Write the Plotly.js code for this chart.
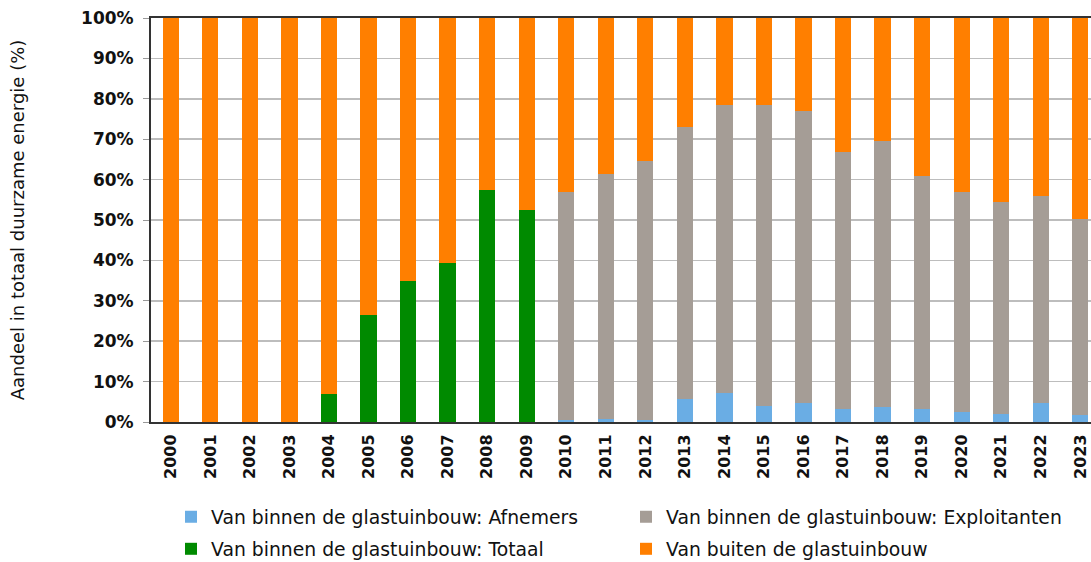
<!DOCTYPE html>
<html>
<head>
<meta charset="utf-8">
<script src="https://cdn.plot.ly/plotly-3.0.1.min.js"></script>
<style>html,body{margin:0;padding:0;background:#fff;}#chart{width:1091px;height:562px;}</style>
</head>
<body>
<div id="chart"></div>
<script>
var years = ['2000','2001','2002','2003','2004','2005','2006','2007','2008','2009','2010','2011','2012','2013','2014','2015','2016','2017','2018','2019','2020','2021','2022','2023'];
var afnemers = [0,0,0,0,0,0,0,0,0,0, 0.4,0.8,0.6,5.8,7.2,4.0,4.6,3.1,3.6,3.1,2.6,2.1,4.6,1.8];
var exploitanten = [0,0,0,0,0,0,0,0,0,0, 56.5,60.7,63.9,67.1,71.2,74.4,72.5,63.8,66.0,57.9,54.3,52.4,51.3,48.5];
var totaal = [0,0,0,0,7.0,26.6,34.9,39.3,57.4,52.5, 0,0,0,0,0,0,0,0,0,0,0,0,0,0];
var buiten = [100,100,100,100,93.0,73.4,65.1,60.7,42.6,47.5, 43.1,38.5,35.5,27.1,21.6,21.6,22.9,33.1,30.4,39.0,43.1,45.5,44.1,49.7];
var tickVals = [0,10,20,30,40,50,60,70,80,90,100];
var tickText = ['0%','10%','20%','30%','40%','50%','60%','70%','80%','90%','100%'];
var names = ['Van binnen de glastuinbouw: Afnemers','Van binnen de glastuinbouw: Exploitanten','Van binnen de glastuinbouw: Totaal','Van buiten de glastuinbouw'];
var colors = ['#6AADE4','#A59D96','#008A00','#FF7F00'];

var series = [afnemers, exploitanten, totaal, buiten];
var legendIds = ['legend','legend','legend2','legend2'];
var traces = series.map(function(s, i){
  return {
    type: 'bar', x: years, y: s, name: names[i],
    marker: {color: colors[i], line: {width: 0}},
    width: 0.41, legend: legendIds[i], hoverinfo: 'x+y+name'
  };
});

var FAM = 'DejaVu Sans, Verdana, sans-serif';
var legendFont = {family: FAM, size: 18.8, color: '#111'};
var layout = {
  width: 1091, height: 562,
  margin: {l: 151, r: 0, t: 18, b: 140, autoexpand: false},
  paper_bgcolor: '#fff', plot_bgcolor: '#fff',
  barmode: 'stack',
  font: {family: FAM, color: '#111'},
  xaxis: {
    type: 'category', range: [-0.5, 23.27], automargin: false,
    tickangle: -90, ticks: '', ticklen: 0, ticklabelstandoff: 4,
    tickfont: {family: FAM, size: 16, color: '#111', weight: 'bold'},
    showline: true, mirror: true, linecolor: '#333', linewidth: 2,
    showgrid: false, zeroline: false, fixedrange: true
  },
  yaxis: {
    range: [0, 100], tickmode: 'array', tickvals: tickVals, ticktext: tickText, automargin: false,
    tickfont: {family: FAM, size: 17, color: '#111', weight: 'bold'},
    ticks: 'outside', ticklen: 6, tickcolor: '#999', tickwidth: 1, ticklabelstandoff: 6,
    showline: true, linecolor: '#333', linewidth: 2,
    showgrid: true, gridcolor: '#BDBDBD', gridwidth: 1.5, zeroline: false,
    title: {text: 'Aandeel in totaal duurzame energie (%)', standoff: 52,
            font: {family: FAM, size: 18, color: '#111'}},
    fixedrange: true
  },
  showlegend: true,
  legend: {orientation: 'h', x: 0.0213, xanchor: 'left', yref: 'container', y: 0.080, yanchor: 'middle',
           entrywidth: 410, entrywidthmode: 'pixels', traceorder: 'normal',
           font: legendFont, bgcolor: 'rgba(0,0,0,0)'},
  legend2: {orientation: 'h', x: 0.0213, xanchor: 'left', yref: 'container', y: 0.023, yanchor: 'middle',
           entrywidth: 410, entrywidthmode: 'pixels', traceorder: 'normal',
           font: legendFont, bgcolor: 'rgba(0,0,0,0)'}
};
Plotly.newPlot('chart', traces, layout, {displayModeBar: false, staticPlot: true});
</script>
</body>
</html>
